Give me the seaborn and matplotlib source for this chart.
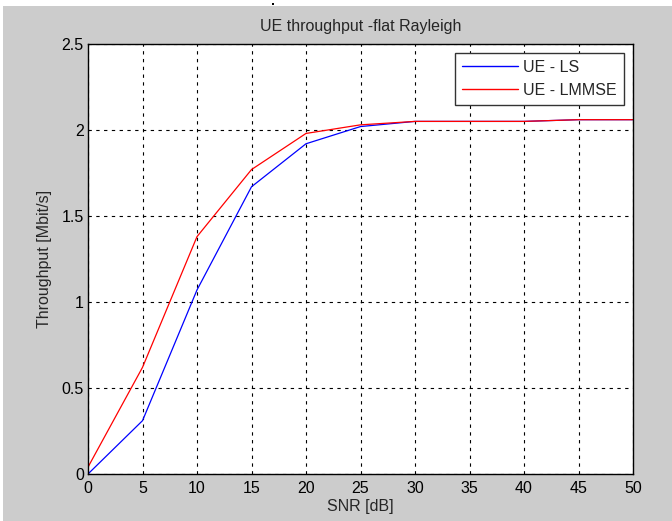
import numpy as np
import pandas as pd
import matplotlib
matplotlib.use("Agg")
import matplotlib.pyplot as plt
from matplotlib.patches import Rectangle
import seaborn as sns

snr = [0, 5, 10, 15, 20, 25, 30, 35, 40, 45, 50]
ls_tp = [0.0, 0.31, 1.07, 1.67, 1.92, 2.02, 2.05, 2.05, 2.05, 2.06, 2.06]
lmmse_tp = [0.04, 0.62, 1.38, 1.77, 1.98, 2.03, 2.05, 2.05, 2.05, 2.06, 2.06]
series_names = ["UE - LS", "UE - LMMSE"]
x_ticks = [0, 5, 10, 15, 20, 25, 30, 35, 40, 45, 50]
y_ticks = [0, 0.5, 1, 1.5, 2, 2.5]

df = pd.DataFrame({
    "SNR": snr * 2,
    "Throughput": ls_tp + lmmse_tp,
    "Series": [series_names[0]] * len(snr) + [series_names[1]] * len(snr),
})

sns.set_style("white")
plt.rcParams['font.family'] = ['Liberation Sans', 'DejaVu Sans']

FS = 11.5

fig = plt.figure(figsize=(6.72, 5.21), dpi=100)
fig.patch.set_facecolor("white")
fig.patches.append(Rectangle((3 / 672, 0), 1, 1 - 6 / 521, transform=fig.transFigure,
                             facecolor="#cccccc", edgecolor="none", zorder=-10))
# small dot at the top edge of the reference picture
fig.patches.append(Rectangle((272 / 672, 1 - 4.5 / 521), 2 / 672, 2 / 521,
                             transform=fig.transFigure, facecolor="black",
                             edgecolor="none", zorder=-5))

ax = fig.add_axes([88 / 672, 1 - 474 / 521, (633 - 88) / 672, (474 - 44) / 521])
ax.set_facecolor("white")

sns.lineplot(data=df, x="SNR", y="Throughput", hue="Series",
             palette={series_names[0]: "#0000ff", series_names[1]: "#ff0000"},
             linewidth=0.9, ax=ax, legend=True)

ax.set_xlim(0, 50)
ax.set_ylim(0, 2.5)
ax.set_xticks(x_ticks)
ax.set_yticks(y_ticks)
ax.set_xticklabels([str(t) for t in x_ticks])
ax.set_yticklabels(["0", "0.5", "1", "1.5", "2", "2.5"])
ax.grid(True, color="black", linestyle=(0, (3, 4)), linewidth=0.8)
ax.tick_params(axis="x", length=0, labelsize=FS, colors="black", pad=5)
ax.tick_params(axis="y", length=0, labelsize=FS, colors="black", pad=3)
for s in ax.spines.values():
    s.set_color("black")
    s.set_linewidth(1.0)

ax.set_title("UE throughput -flat Rayleigh", fontsize=FS, pad=9)
ax.set_xlabel("SNR [dB]", fontsize=FS, labelpad=2)
ax.set_ylabel("Throughput [Mbit/s]", fontsize=FS, labelpad=7)

leg = ax.legend(loc="upper right", fontsize=FS, frameon=True, fancybox=False,
                edgecolor="#333333", framealpha=1, borderpad=0.45, handlelength=3.5,
                handletextpad=0.35, labelspacing=0.5, borderaxespad=0.55)
leg.get_frame().set_linewidth(1.0)
for line in leg.get_lines():
    line.set_linewidth(1.0)

fig.savefig("out.png", dpi=100)
